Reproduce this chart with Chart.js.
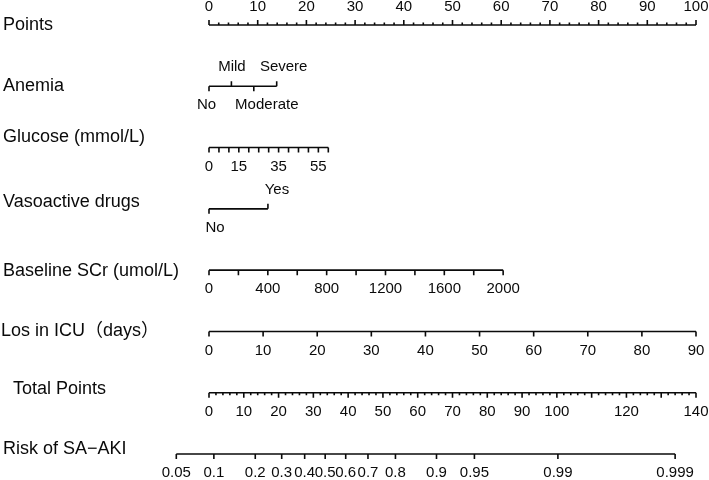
<!DOCTYPE html>
<html><head><meta charset="utf-8">
<script src="https://cdn.jsdelivr.net/npm/chart.js@4.4.0/dist/chart.umd.min.js"></script>
<style>html,body{margin:0;padding:0;background:#fff}#c{display:block}</style>
</head><body><canvas id="c" width="709" height="480"></canvas>
<script>
// ---- data ----
const rowTitles = ["Points", "Anemia", "Glucose (mmol/L)", "Vasoactive drugs",
  "Baseline SCr (umol/L)", "Los in ICU\uFF08days\uFF09", "Total Points", "Risk of SA\u2212AKI"];

const pointsMajor = [0, 10, 20, 30, 40, 50, 60, 70, 80, 90, 100];
const pointsMinorStep = 2;

const anemiaLevels = ["No", "Mild", "Moderate", "Severe"];
const anemiaPoints = [0, 4.6, 9.2, 13.9];
const anemiaLabelSide = ["below", "above", "below", "above"];

const glucoseTicks = [0, 5, 10, 15, 20, 25, 30, 35, 40, 45, 50, 55, 60];
const glucoseLabels = [0, 15, 35, 55];
const glucoseMax = 60, glucosePointsAtMax = 24.5;

const vasoLevels = ["No", "Yes"];
const vasoPoints = [0, 12.1];
const vasoLabelSide = ["below", "above"];

const scrTicks = [0, 200, 400, 600, 800, 1000, 1200, 1400, 1600, 1800, 2000];
const scrLabels = [0, 400, 800, 1200, 1600, 2000];
const scrMax = 2000, scrPointsAtMax = 60.4;

const losTicks = [0, 10, 20, 30, 40, 50, 60, 70, 80, 90];
const losMax = 90, losPointsAtMax = 100;

const totalMajor = [0, 10, 20, 30, 40, 50, 60, 70, 80, 90, 100, 110, 120, 130, 140];
const totalLabels = [0, 10, 20, 30, 40, 50, 60, 70, 80, 90, 100, 120, 140];
const totalMinorStep = 2;
const totalMax = 140;

const riskLabels = ["0.05", "0.1", "0.2", "0.3", "0.4", "0.5", "0.6", "0.7", "0.8", "0.9", "0.95", "0.99", "0.999"];
const riskTotalPoints = [-9.4, 1.4, 13.3, 20.9, 27.5, 33.4, 39.3, 45.7, 53.6, 65.4, 76.3, 100.3, 134.0];

// ---- layout (pixel nudges for categorical labels, as placed in the reference) ----
const anemiaNudge = [-2.5, 0.5, 13, 7];
const vasoNudge = [6, 9];

// ---- mapping of each variable onto the Points scale ----
const glu = v => v * glucosePointsAtMax / glucoseMax;
const scr = v => v * scrPointsAtMax / scrMax;
const los = v => v * losPointsAtMax / losMax;
const tot = v => v * 100 / totalMax;

const MAJ = 5, MIN = 2.5, LBL = 19;
const rows = [];
// 0 Points
(function () {
  const ticks = [], labels = [];
  for (let v = 0; v <= 100; v += pointsMinorStep) ticks.push({ x: v, len: pointsMajor.includes(v) ? MAJ : MIN, dir: -1 });
  pointsMajor.forEach(v => labels.push({ x: v, text: String(v), off: -LBL + 0.5 }));
  rows.push({ start: 0, end: 100, ticks, labels, tx: 3, ty: 0 });
})();
// 1 Anemia
rows.push({
  start: anemiaPoints[0], end: anemiaPoints[anemiaPoints.length - 1],
  ticks: anemiaPoints.map((p, i) => ({ x: p, len: MAJ, dir: anemiaLabelSide[i] === "above" ? -1 : 1 })),
  labels: anemiaPoints.map((p, i) => ({ x: p, dx: anemiaNudge[i], text: anemiaLevels[i], off: anemiaLabelSide[i] === "above" ? -LBL : LBL })),
  tx: 3, ty: 0
});
// 2 Glucose
rows.push({
  start: 0, end: glu(glucoseMax),
  ticks: glucoseTicks.map(v => ({ x: glu(v), len: MAJ, dir: 1 })),
  labels: glucoseLabels.map(v => ({ x: glu(v), text: String(v), off: LBL })),
  tx: 3, ty: -11
});
// 3 Vasoactive
rows.push({
  start: vasoPoints[0], end: vasoPoints[1],
  ticks: vasoPoints.map((p, i) => ({ x: p, len: MAJ, dir: vasoLabelSide[i] === "above" ? -1 : 1 })),
  labels: vasoPoints.map((p, i) => ({ x: p, dx: vasoNudge[i], text: vasoLevels[i], off: vasoLabelSide[i] === "above" ? -LBL : LBL })),
  tx: 3, ty: -7
});
// 4 SCr
rows.push({
  start: 0, end: scr(scrMax),
  ticks: scrTicks.map(v => ({ x: scr(v), len: MAJ, dir: 1 })),
  labels: scrLabels.map(v => ({ x: scr(v), text: String(v), off: LBL })),
  tx: 3, ty: 1
});
// 5 Los
rows.push({
  start: 0, end: los(losMax),
  ticks: losTicks.map(v => ({ x: los(v), len: MAJ, dir: 1 })),
  labels: losTicks.map(v => ({ x: los(v), text: String(v), off: LBL })),
  tx: 1, ty: 0
});
// 6 Total points
(function () {
  const ticks = [];
  for (let v = 0; v <= totalMax; v += totalMinorStep) ticks.push({ x: tot(v), len: totalMajor.includes(v) ? MAJ : MIN, dir: 1 });
  rows.push({ start: 0, end: tot(totalMax), ticks,
    labels: totalLabels.map(v => ({ x: tot(v), text: String(v), off: LBL })), tx: 13, ty: -4 });
})();
// 7 Risk
rows.push({
  start: tot(riskTotalPoints[0]), end: tot(riskTotalPoints[riskTotalPoints.length - 1]),
  ticks: riskTotalPoints.map(v => ({ x: tot(v), len: MAJ, dir: 1 })),
  labels: riskTotalPoints.map((v, i) => ({ x: tot(v), text: riskLabels[i], off: LBL })),
  tx: 3, ty: -5
});

const FONT = "'Liberation Sans', Arial, Helvetica, 'Noto Sans CJK SC', sans-serif";
const INK = '#0a0a0a';

const nomoPlugin = {
  id: 'nomo',
  afterDatasetsDraw(chart) {
    const ctx = chart.ctx, xs = chart.scales.x, ys = chart.scales.y;
    ctx.save();
    ctx.strokeStyle = INK; ctx.fillStyle = INK; ctx.lineWidth = 1.6;
    rows.forEach((r, i) => {
      const y = ys.getPixelForValue(i);
      ctx.beginPath();
      r.ticks.forEach(t => {
        const x = xs.getPixelForValue(t.x);
        ctx.moveTo(x, y); ctx.lineTo(x, y + t.dir * t.len);
      });
      ctx.stroke();
      ctx.font = "15px " + FONT;
      ctx.textAlign = 'center'; ctx.textBaseline = 'middle';
      r.labels.forEach(l => ctx.fillText(l.text, xs.getPixelForValue(l.x) + (l.dx || 0), y + l.off));
      ctx.font = "18px " + FONT;
      ctx.textAlign = 'left';
      ctx.fillText(rowTitles[i], r.tx, y + r.ty);
    });
    ctx.restore();
  }
};

new Chart(document.getElementById('c'), {
  type: 'scatter',
  data: {
    datasets: rows.map((r, i) => ({
      label: rowTitles[i],
      data: [{ x: r.start, y: i }, { x: r.end, y: i }],
      showLine: true, borderColor: INK, borderWidth: 1.6, pointRadius: 0, clip: false
    }))
  },
  options: {
    responsive: false, animation: false, devicePixelRatio: 1,
    layout: { padding: { left: 209, right: 13, top: 25, bottom: 26 } },
    scales: {
      x: { type: 'linear', min: 0, max: 100, display: false },
      y: { type: 'linear', min: 0, max: 7, reverse: true, display: false }
    },
    plugins: { legend: { display: false }, tooltip: { enabled: false } }
  },
  plugins: [nomoPlugin]
});
</script></body></html>
